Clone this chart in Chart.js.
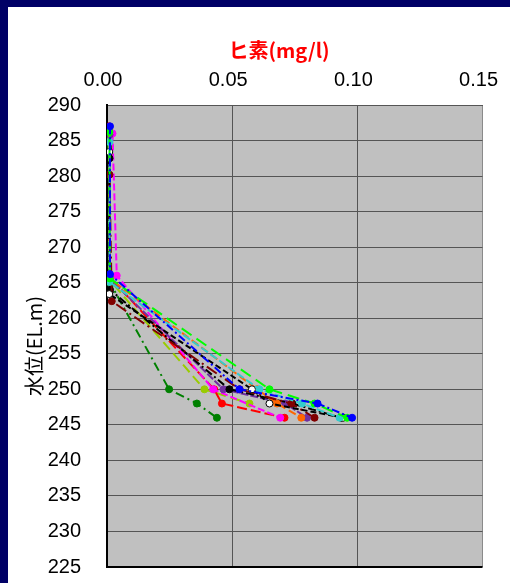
<!DOCTYPE html>
<html>
<head>
<meta charset="utf-8">
<script src="https://cdn.jsdelivr.net/npm/chart.js@4.4.0/dist/chart.umd.min.js"></script>
<style>
  html, body { margin: 0; padding: 0; background: #000066; }
  body { width: 510px; height: 583px; overflow: hidden; position: relative; }
  #frame { position: absolute; left: 8px; top: 7px; width: 502px; height: 576px; background: #ffffff; overflow: hidden; }
  canvas { display: block; }
</style>
</head>
<body>
<div id="frame"><canvas id="chart" width="507" height="598"></canvas></div>
<script>
// Arsenic concentration (mg/l) against water level (EL.m), one profile per survey
const xTicks = [0.00, 0.05, 0.10, 0.15];
const yTicks = [225, 230, 235, 240, 245, 250, 255, 260, 265, 270, 275, 280, 285, 290];

const darkGreenAs = [0.0010, 0.0012, 0.0248, 0.0359, 0.0439];
const darkGreenEL = [284.2, 265.0, 250, 248, 246];

const yellowGreenAs = [0.0010, 0.0012, 0.0389, 0.0569];
const yellowGreenEL = [285.5, 265.3, 250, 248];

const redAs = [0.0008, 0.0010, 0.0428, 0.0459, 0.0709];
const redEL = [287.0, 265.8, 250, 248, 246];

const magentaAs = [0.0022, 0.0039, 0.0424, 0.0692];
const magentaEL = [286.0, 266.0, 250, 246];

const purpleAs = [0.0010, 0.0012, 0.0465, 0.0712, 0.0799];
const purpleEL = [285.8, 265.5, 250, 248, 246];

const blackAs = [0.0010, 0.0012, 0.0489, 0.0740, 0.0935];
const blackEL = [282.5, 264.0, 250, 248, 246];

const orangeAs = [0.0008, 0.0010, 0.0600, 0.0679, 0.0776];
const orangeEL = [286.6, 265.6, 250, 248, 246];

const darkRedAs = [0.0010, 0.0019, 0.0530, 0.0736, 0.0829];
const darkRedEL = [280.2, 262.4, 250, 248, 246];

const whiteAs = [0.0009, 0.0009, 0.0579, 0.0649, 0.0943];
const whiteEL = [283.4, 263.4, 250, 248, 246];

const cyanAs = [0.0010, 0.0010, 0.0609, 0.0779, 0.0929];
const cyanEL = [284.8, 265.1, 250, 248, 246];

const limeAs = [0.0010, 0.0011, 0.0649, 0.0829, 0.0959];
const limeEL = [286.2, 265.6, 250, 248, 246];

const blueAs = [0.0012, 0.0012, 0.0529, 0.0841, 0.0979];
const blueEL = [287.0, 266.2, 250, 248, 246];

function toPoints(xs, ys) {
  return xs.map((v, i) => ({ x: v, y: ys[i] }));
}

function profile(label, xs, ys, color, dash, fill) {
  return {
    label: label,
    data: toPoints(xs, ys),
    showLine: true,
    borderColor: color,
    backgroundColor: fill || color,
    pointBackgroundColor: fill || color,
    pointBorderColor: color,
    borderWidth: 2,
    borderDash: dash,
    pointRadius: 3.5,
    pointBorderWidth: 1,
    tension: 0
  };
}

// Listed bottom layer first; reversed below because Chart.js paints the first dataset on top
const layers = [
  profile('A', darkGreenAs, darkGreenEL, '#008000', [9, 4, 2, 4]),
  profile('B', yellowGreenAs, yellowGreenEL, '#99CC00', [10, 5]),
  profile('C', redAs, redEL, '#FF0000', [10, 4]),
  profile('D', magentaAs, magentaEL, '#FF00FF', [7, 3]),
  profile('E', purpleAs, purpleEL, '#7030A0', [8, 2]),
  profile('F', blackAs, blackEL, '#000000', [8, 3, 2, 3]),
  profile('G', orangeAs, orangeEL, '#FF6600', [8, 4]),
  profile('H', darkRedAs, darkRedEL, '#800000', [12, 4, 2, 4]),
  profile('I', whiteAs, whiteEL, '#000000', [6, 3], '#FFFFFF'),
  profile('J', cyanAs, cyanEL, '#33CCCC', [8, 3]),
  profile('K', limeAs, limeEL, '#00FF00', [12, 6]),
  profile('L', blueAs, blueEL, '#0000FF', [8, 3, 2, 3])
];
const datasets = layers.slice().reverse();

const plotBackground = {
  id: 'plotBackground',
  beforeDraw(chart) {
    const { ctx, chartArea: a } = chart;
    ctx.save();
    ctx.fillStyle = '#C0C0C0';
    ctx.fillRect(a.left, a.top, a.right - a.left, a.bottom - a.top);
    ctx.restore();
  }
};

const axisTitles = {
  id: 'axisTitles',
  afterDraw(chart) {
    const ctx = chart.ctx;
    ctx.save();
    ctx.fillStyle = '#FF0000';
    ctx.font = 'bold 20px "Noto Sans CJK JP"';
    ctx.textAlign = 'center';
    ctx.textBaseline = 'middle';
    ctx.fillText('ヒ素(mg/l)', 271, 43);
    ctx.translate(26, 339);
    ctx.rotate(-Math.PI / 2);
    ctx.fillStyle = '#000000';
    ctx.font = '20px "Noto Sans CJK JP"';
    ctx.fillText('水位(EL.m)', 0, 0);
    ctx.restore();
  }
};

new Chart(document.getElementById('chart'), {
  type: 'scatter',
  data: { datasets: datasets },
  options: {
    responsive: false,
    animation: false,
    devicePixelRatio: 1,
    layout: { padding: 0 },
    plugins: { legend: { display: false }, tooltip: { enabled: false } },
    scales: {
      x: {
        type: 'linear',
        position: 'top',
        min: xTicks[0],
        max: xTicks[xTicks.length - 1],
        afterBuildTicks(axis) { axis.ticks = xTicks.map(v => ({ value: v })); },
        afterFit(axis) { axis.height = 98; },
        ticks: {
          padding: 13,
          labelOffset: -4,
          color: '#000',
          font: { family: '"Liberation Sans"', size: 20 },
          callback: v => Number(v).toFixed(2)
        },
        grid: {
          drawTicks: false,
          color: ctx => (ctx.tick && ctx.tick.value === 0.15 ? '#8A8A8A' : '#555555'),
          lineWidth: 1
        },
        border: { color: '#555555', width: 1 }
      },
      y: {
        type: 'linear',
        min: yTicks[0],
        max: yTicks[yTicks.length - 1],
        afterBuildTicks(axis) { axis.ticks = yTicks.map(v => ({ value: v })); },
        afterFit(axis) { axis.width = 99; },
        ticks: {
          padding: 26,
          color: '#000',
          font: { family: '"Liberation Sans"', size: 20 }
        },
        grid: {
          drawTicks: false,
          color: ctx => (ctx.tick && ctx.tick.value === 225 ? '#000000' : '#555555'),
          lineWidth: ctx => (ctx.tick && ctx.tick.value === 225 ? 2 : 1)
        },
        border: { color: '#000000', width: 2 }
      }
    }
  },
  plugins: [plotBackground, axisTitles]
});
</script>
</body>
</html>
